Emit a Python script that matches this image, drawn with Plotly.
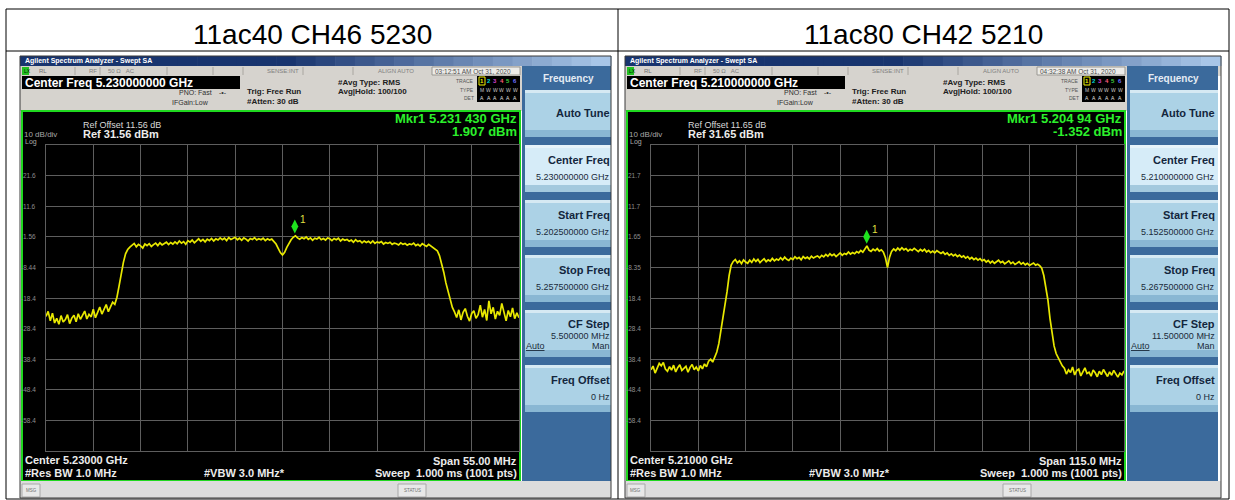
import numpy as np
import plotly.graph_objects as go

W, H = 1235, 500
FONT = "Liberation Sans, Arial, sans-serif"

# ---------------- data ----------------
titles = ["11ac40 CH46 5230", "11ac80 CH42 5210"]
center_ghz = [5.230, 5.210]
span_mhz = [55.0, 115.0]
span_text = ["55.00 MHz", "115.0 MHz"]
ref_dbm = [31.56, 31.65]
ref_offset_db = [11.56, 11.65]
ytick_text = [
    ["21.6", "11.6", "1.56", "-8.44", "-18.4", "-28.4", "-38.4", "-48.4", "-58.4"],
    ["21.7", "11.7", "1.65", "-8.35", "-18.4", "-28.4", "-38.4", "-48.4", "-58.4"],
]
mkr_freq_ghz = [5.231430, 5.20494]
mkr_freq_text = ["5.231 430 GHz", "5.204 94 GHz"]
mkr_level_dbm = [1.907, -1.352]
timestamps = ["03:12:51 AM Oct 31, 2020", "04:32:38 AM Oct 31, 2020"]
cf_step_text = ["5.500000 MHz", "11.500000 MHz"]

# swept trace levels (dBm), evenly spaced from start to stop frequency
trace_a = [
    -24.5, -22.8, -25.9, -23.4, -26.6, -25.1, -27.0, -24.2, -26.3, -25.5,
    -23.9, -26.8, -25.0, -24.1, -26.2, -23.6, -25.4, -24.0, -22.7, -25.3,
    -23.8, -24.6, -22.1, -24.9, -23.0, -21.4, -23.7, -22.0, -20.6, -22.9,
    -21.2, -19.8,
    -20.5, -18.2, -14.5, -10.3, -6.8, -4.0, -2.6, -1.8,
    -1.2, -0.6, -1.7, -0.9, -1.4, -2.1, -0.8, -1.3, -0.7, -1.6,
    -1.0, -0.5, -1.3, -0.4, -1.1, -0.6, -0.2, -1.0, -0.3, -0.8,
    -0.1, -0.7, 0.2, -0.5, 0.0, -0.9, 0.3, -0.2, 0.5, -0.4,
    0.4, 0.9, 0.1, 0.7, -0.1, 0.8, 0.3, 1.0, 0.2, 0.9,
    0.5, 1.2, 0.6, 1.1, 0.3, 1.3, 0.7, 1.0, 1.4, 0.6,
    1.1, 0.4, 1.2, 0.8, 0.2, 1.0, 0.7, 1.3, 0.5, 0.9,
    0.6, 1.1, 0.3, 0.9, 0.5, 0.8, 0.1,
    -0.8, -2.2, -3.6, -4.4, -3.5, -1.9, -0.4,
    0.6, 1.4, 1.907, 1.2, 0.8, 1.3,
    0.9, 1.5, 0.7, 1.2, 0.4, 1.1, 0.8, 1.4, 0.6, 1.0,
    0.5, 1.2, 0.9, 0.3, 1.0, 0.6, 1.1, 0.2, 0.8, 0.4,
    0.7, 0.1, 0.5, -0.2, 0.6, 0.0, 0.3, -0.4, 0.2, -0.3,
    0.1, -0.5, 0.2, -0.6, -0.1, -0.4, 0.0, -0.8, -0.3, -0.6,
    -0.2, -0.9, -0.5, -0.7, -1.1, -0.4, -0.9, -0.6, -1.2, -0.8,
    -1.0, -0.5, -1.3, -0.9, -1.5, -0.7, -1.2, -1.6, -0.9, -1.4,
    -1.8, -2.2, -3.0, -4.6, -7.0, -10.0, -13.5, -16.5, -19.5, -21.5, -23.0,
    -24.8, -22.3, -25.6, -23.1, -21.9, -24.4, -26.0, -23.5, -22.6, -25.1,
    -23.9, -20.8, -24.7, -22.2, -25.8, -19.4, -23.6, -21.5, -25.3, -22.8,
    -24.1, -20.2, -23.4, -25.9, -22.5, -24.6, -21.7, -25.2, -23.3, -24.9,
]
trace_b = [
    -41.8, -40.6, -42.9, -41.2, -39.7, -40.5, -39.4, -41.6, -42.3, -40.8,
    -41.9, -40.3, -42.5, -41.1, -40.2, -42.0, -41.4, -40.7, -42.6, -41.0,
    -40.1, -41.8, -40.9, -42.2, -40.4, -41.5, -39.9, -40.8, -39.0, -38.4,
    -39.3,
    -37.6, -36.0, -33.2, -29.0, -25.1, -21.0, -16.2, -11.0, -7.6, -6.4,
    -5.8, -6.9, -6.2, -7.1, -5.9, -6.6, -7.0, -6.0, -6.7, -5.6,
    -6.4, -5.7, -6.8, -6.1, -5.5, -6.5, -5.9, -6.3, -5.4, -6.2,
    -5.6, -6.0, -5.2, -5.9, -5.0, -5.7, -6.1, -5.3, -5.8, -4.9,
    -5.5, -5.1, -5.9, -4.8, -5.4, -5.0, -5.6, -4.7, -5.3, -4.9,
    -4.6, -5.2, -4.4, -4.9, -4.1, -4.7, -3.9, -4.5, -4.0, -4.8,
    -4.2, -3.6, -4.4, -3.8, -4.1, -3.3, -4.0, -3.5, -3.9, -3.2,
    -3.6, -2.8, -3.4, -2.5, -1.352, -2.7, -3.1, -2.4, -2.9, -2.2,
    -3.0, -2.6, -3.4,
    -5.2, -8.4, -5.0,
    -3.1, -2.3, -2.9, -2.0, -2.7, -1.9, -2.6, -2.2, -3.0, -2.4, -2.8, -2.1,
    -2.7, -3.2, -2.5, -3.0, -2.4, -3.3, -2.8, -3.5, -3.0, -3.6, -2.9, -3.4,
    -3.8, -3.3, -4.1, -3.6, -4.4, -3.9, -4.6, -4.1, -4.8, -4.3,
    -5.0, -4.6, -5.3, -4.8, -5.6, -5.1, -5.8, -5.3, -6.0, -5.5,
    -6.2, -5.8, -6.6, -6.1, -6.9, -6.3, -7.0, -6.5, -6.0, -6.8,
    -6.4, -7.2, -6.7, -6.2, -7.1, -6.6, -7.4, -6.9, -6.5, -7.3,
    -6.8, -7.5, -7.0, -7.7, -7.2, -6.9, -7.6, -7.3,
    -7.8, -8.6, -11.0, -15.0, -19.0, -25.0, -30.0, -34.0, -36.5, -38.0, -39.5, -40.5,
    -41.3, -43.2, -41.8, -42.7, -40.9, -43.5, -42.1, -41.6, -43.8, -42.4,
    -41.2, -43.0, -42.6, -43.9, -41.9, -42.8, -44.1, -42.3, -43.4, -41.7,
    -43.1, -44.0, -42.5, -43.6, -42.0, -43.3, -44.2, -42.9, -43.5, -42.2,
]
traces = [trace_a, trace_b]

# ---------------- drawing helpers (pixel -> paper) ----------------
shapes, annos = [], []


def rect(x0, y0, x1, y1, fill=None, line=None, lw=1):
    shapes.append(dict(
        type="rect", xref="paper", yref="paper",
        x0=x0 / W, x1=x1 / W, y0=1 - y1 / H, y1=1 - y0 / H,
        fillcolor=fill if fill else "rgba(0,0,0,0)",
        line=dict(color=line if line else "rgba(0,0,0,0)", width=lw if line else 0),
        layer="below"))


def seg(x0, y0, x1, y1, color, lw=1):
    shapes.append(dict(
        type="line", xref="paper", yref="paper",
        x0=x0 / W, x1=x1 / W, y0=1 - y0 / H, y1=1 - y1 / H,
        line=dict(color=color, width=lw), layer="below"))


def txt(x, y, s, size, color="#000000", anchor="left", bold=False):
    annos.append(dict(
        xref="paper", yref="paper", x=x / W, y=1 - y / H,
        text=f"<b>{s}</b>" if bold else s, showarrow=False,
        xanchor=anchor, yanchor="middle", borderpad=0,
        font=dict(family=FONT, size=size, color=color)))


def mix(c0, c1, t):
    return "rgb({},{},{})".format(*[int(round(a + (b - a) * t)) for a, b in zip(c0, c1)])


# ---------------- table frame ----------------
TBL_L, TBL_M, TBL_R, TBL_T, TBL_HB, TBL_B = 6, 618, 1229, 9, 51, 499
seg(TBL_L, TBL_T, TBL_R, TBL_T, "#000000")
seg(TBL_L, TBL_HB, TBL_R, TBL_HB, "#000000")
seg(TBL_L, TBL_B, TBL_R, TBL_B, "#000000")
for xv in (TBL_L, TBL_M, TBL_R):
    seg(xv, TBL_T, xv, TBL_B, "#000000")
txt((TBL_L + TBL_M) / 2, 34, titles[0], 28, "#000000", "center")
txt((TBL_M + TBL_R) / 2, 34, titles[1], 28, "#000000", "center")

# ---------------- analyzer screens ----------------
DX = 605
GRID_L, GRID_R, GRID_T, GRID_B = 46, 519, 145, 451
GRAY = "#d6d3ce"
fig = go.Figure()

for k in range(2):
    dx = DX * k
    L = 20 + dx
    R = 611 if k == 0 else 1221
    pr = 611 if k == 0 else 1218   # softkey panel right edge
    c = center_ghz[k]
    start = c - span_mhz[k] / 2000.0
    stop = c + span_mhz[k] / 2000.0

    # window title bar
    nstrip = 30
    wbar = (R - L) / nstrip
    for j in range(nstrip):
        t = max(0.0, (j / (nstrip - 1) - 0.45) / 0.55)
        rect(L + j * wbar, 56, L + (j + 1) * wbar + 0.6, 66, fill=mix((24, 52, 110), (168, 198, 232), t))
    txt(L + 4, 61, "Agilent Spectrum Analyzer - Swept SA", 7, "#ffffff", bold=True)

    # status row
    rect(L, 66, R, 76, fill=GRAY)
    for xr in (55, 80, 147, 193, 223, 283, 333):
        seg(L + xr, 67, L + xr, 75, "#a9a6a0")
    rect(L + 412, 67, L + 500, 75, fill="#ecebe8", line="#9a9892")
    rect(L + 2, 67, L + 9, 75, fill="#22c022")
    txt(L + 3, 71, "LX", 5, "#002000")
    txt(L + 18, 71, "RL", 6, "#707070")
    txt(L + 68, 71, "RF", 6, "#808080")
    txt(L + 87, 71, "50 \u03a9   AC", 6, "#808080")
    txt(L + 280, 71, "SENSE:INT", 6, "#808080", "right")
    txt(L + 357, 71, "ALIGN AUTO", 6, "#808080")
    txt(L + 414, 71, timestamps[k], 6.5, "#505050")

    # instrument settings area
    rect(L, 76, L + 502, 111, fill=GRAY)
    rect(L + 2, 76, L + 220, 89, fill="#000000")
    txt(L + 4, 82.5, f"Center Freq {c:.9f} GHz", 12, "#ffffff", bold=True)
    txt(L + 193, 93, "PNO: Fast", 7, "#303030", "right")
    txt(L + 198, 93, "-\u2022-", 7, "#303030")
    txt(L + 190, 103, "IFGain:Low", 7, "#303030", "right")
    txt(L + 226, 92, "Trig: Free Run", 8, "#202020", bold=True)
    txt(L + 226, 102, "#Atten: 30 dB", 8, "#202020", bold=True)
    txt(L + 317, 82, "#Avg Type: RMS", 8, "#202020", bold=True)
    txt(L + 317, 91.5, "Avg|Hold: 100/100", 8, "#202020", bold=True)
    txt(L + 455, 81, "TRACE", 5, "#555555", "right")
    txt(L + 455, 90, "TYPE", 5, "#555555", "right")
    txt(L + 455, 98, "DET", 5, "#555555", "right")
    rect(L + 457, 76, L + 500, 102, fill="#000000")
    tcols = ["#f0f000", "#00d8d8", "#d040d0", "#ff5a7a", "#40d040", "#7070ff"]
    for j in range(6):
        xj = L + 462 + j * 6.6
        txt(xj, 81, str(j + 1), 6, tcols[j], "center", bold=True)
        txt(xj, 90, "M" if j == 0 else "W", 5, "#c8c8c8", "center")
        txt(xj, 97.5, "A", 5, "#e0e0e0", "center")
    rect(L + 459, 77, L + 465, 85, line="#f0f000", lw=1)

    # measurement display
    rect(L + 2, 111, L + 500, 481, fill="#000000", line="#1fd81f", lw=2)
    txt(L + 62, 125, f"Ref Offset {ref_offset_db[k]:.2f} dB", 9, "#d8d8d8")
    txt(L + 3, 134, "10 dB/div", 8, "#a8a8a8")
    txt(L + 4, 142.5, "Log", 7, "#a8a8a8")
    txt(L + 62, 134, f"Ref {ref_dbm[k]:.2f} dBm", 11, "#ececec", bold=True)
    txt(L + 498, 118, f"Mkr1 {mkr_freq_text[k]}", 13, "#2cf02c", "right", bold=True)
    txt(L + 498, 131, f"{mkr_level_dbm[k]:.3f} dBm", 13, "#2cf02c", "right", bold=True)
    txt(L + 4, 460, f"Center {c:.5f} GHz", 11, "#ececec", bold=True)
    txt(L + 4, 473, "#Res BW 1.0 MHz", 11, "#ececec", bold=True)
    txt(L + 183, 473, "#VBW 3.0 MHz*", 11, "#ececec", bold=True)
    txt(L + 498, 461, f"Span {span_text[k]}", 11, "#ececec", "right", bold=True)
    txt(L + 498, 473, "Sweep  1.000 ms (1001 pts)", 11, "#ececec", "right", bold=True)

    # softkey menu
    rect(L + 502, 66, pr, 481, fill="#3b6a9c")
    txt(L + 548, 78, "Frequency", 10, "#e4ecf4", "center", bold=True)
    keys = [
        (90, "Auto Tune", None),
        (145, "Center Freq", f"{c:.9f} GHz"),
        (200, "Start Freq", f"{start:.9f} GHz"),
        (255, "Stop Freq", f"{stop:.9f} GHz"),
        (310, "CF Step", cf_step_text[k]),
        (365, "Freq Offset", "0 Hz"),
    ]
    for idx, (ky, head, sub) in enumerate(keys):
        base = (214, 236, 248) if idx == 1 else (172, 210, 230)
        dark = (150, 192, 216) if idx == 1 else (128, 176, 206)
        rect(L + 505, ky, pr, ky + 47, fill=mix(base, base, 0))
        rect(L + 505, ky, pr, ky + 3, fill=mix(base, (240, 248, 252), 0.6))
        rect(L + 505, ky + 40, pr, ky + 47, fill=mix(base, dark, 0.8))
        if head == "CF Step":
            txt(L + 591, ky + 14, head, 11, "#13263d", "right", bold=True)
            txt(L + 591, ky + 25.5, sub, 9, "#1a2a3a", "right")
            txt(L + 505, ky + 35.5, "<u>Auto</u>", 9, "#1a2a3a")
            txt(L + 591, ky + 35.5, "Man", 9, "#1a2a3a", "right")
        elif sub:
            txt(L + 591, ky + 15, head, 11, "#13263d", "right", bold=True)
            txt(L + 591, ky + 32, sub, 9, "#1a2a3a", "right")
        else:
            txt(L + 591, ky + 23, head, 11, "#13263d", "right", bold=True)

    # message / status bar
    rect(L, 481, R, 498, fill="#dcdcdc")
    rect(L + 2, 484, L + 20, 497, fill="#e8e8e8", line="#a8a8a8")
    txt(L + 11, 490.5, "MSG", 4.5, "#707070", "center")
    rect(L + 378, 484, L + 406, 497, fill="#e8e8e8", line="#a8a8a8")
    txt(L + 392, 490.5, "STATUS", 4.5, "#707070", "center")
    rect(L, 56, R, 498, line="#3a3a3a", lw=1)

    # y-axis level labels
    yname = "y" if k == 0 else "y2"
    for j, lab in enumerate(ytick_text[k]):
        annos.append(dict(
            xref="paper", yref=yname, x=(GRID_L + dx - 9) / W,
            y=ref_dbm[k] - 10 * (j + 1), text=lab, showarrow=False,
            xanchor="right", yanchor="middle", borderpad=0,
            font=dict(family=FONT, size=6.5, color="#8e8e8e")))

    # spectrum trace
    levels = traces[k]
    freq = np.linspace(start, stop, len(levels))
    xa = "x" if k == 0 else "x2"
    fig.add_trace(go.Scatter(
        x=freq, y=levels, mode="lines", xaxis=xa, yaxis=yname,
        line=dict(color="#e8e800", width=1.7), hoverinfo="skip", showlegend=False))

    # marker 1
    fig.add_trace(go.Scatter(
        x=[mkr_freq_ghz[k]], y=[mkr_level_dbm[k] + 3.0], mode="markers",
        xaxis=xa, yaxis=yname,
        marker=dict(symbol="diamond-tall", size=10, color="#1ee41e", line=dict(width=0)),
        hoverinfo="skip", showlegend=False))
    annos.append(dict(
        xref=xa, yref=yname, x=mkr_freq_ghz[k], y=mkr_level_dbm[k], text="1",
        showarrow=False, xshift=8, yshift=16, xanchor="center", yanchor="middle",
        font=dict(family=FONT, size=10, color="#e0e040")))

    ax = dict(
        range=[start, stop], tick0=start, dtick=(stop - start) / 10,
        showgrid=True, gridcolor="#5e5e5e", gridwidth=1, zeroline=False,
        showticklabels=False, ticks="", showline=True, linecolor="#5e5e5e",
        linewidth=1, mirror=True, fixedrange=True,
        domain=[(GRID_L + dx) / W, (GRID_R + dx) / W])
    ay = dict(
        range=[ref_dbm[k] - 100, ref_dbm[k]], tick0=ref_dbm[k], dtick=10,
        showgrid=True, gridcolor="#5e5e5e", gridwidth=1, zeroline=False,
        showticklabels=False, ticks="", showline=True, linecolor="#5e5e5e",
        linewidth=1, mirror=True, fixedrange=True,
        domain=[1 - GRID_B / H, 1 - GRID_T / H])
    if k == 0:
        fig.update_layout(xaxis=dict(ax, anchor="y"), yaxis=dict(ay, anchor="x"))
    else:
        fig.update_layout(xaxis2=dict(ax, anchor="y2"), yaxis2=dict(ay, anchor="x2"))

fig.update_layout(
    width=W, height=H, margin=dict(l=0, r=0, t=0, b=0),
    paper_bgcolor="#ffffff", plot_bgcolor="#000000",
    shapes=shapes, annotations=annos, showlegend=False,
    font=dict(family=FONT))

fig.write_html("out.html", include_plotlyjs=True, config={"displayModeBar": False})
